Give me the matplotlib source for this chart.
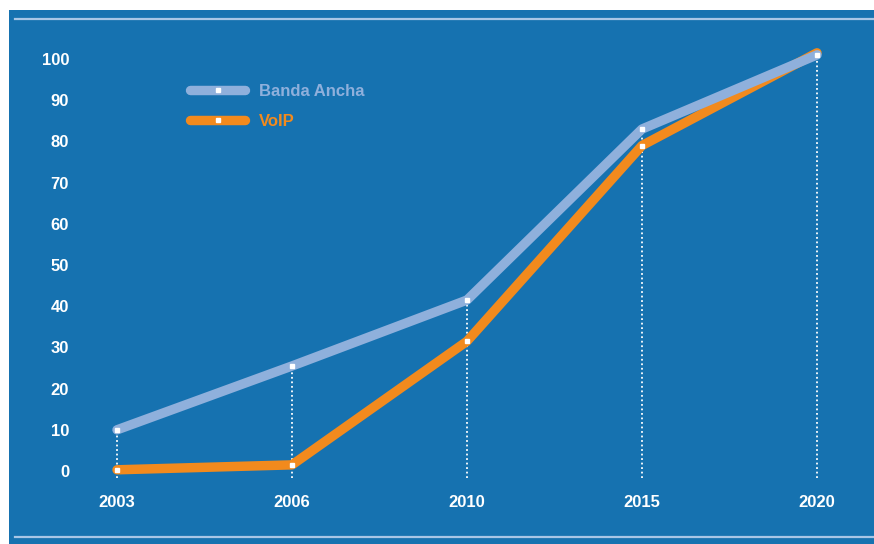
import matplotlib
matplotlib.use('Agg')
import matplotlib.pyplot as plt
from matplotlib.patches import Rectangle
from matplotlib.lines import Line2D

years = ['2003', '2006', '2010', '2015', '2020']
banda_ancha = [10, 25.5, 41.5, 83, 101]
voip = [0.3, 1.5, 31.5, 79, 101.5]
yticks = [0, 10, 20, 30, 40, 50, 60, 70, 80, 90, 100]

bg = '#1672b0'
c_ba = '#8fb0dc'
c_voip = '#f28a1d'

W, H = 874, 544
fig = plt.figure(figsize=(W/100, H/100), dpi=100, facecolor='white')

# blue panel and the two thin rules, kept behind the axes
fig.patches.append(Rectangle((9/W, 0), 1-9/W, 1-10/H, transform=fig.transFigure,
                             facecolor=bg, edgecolor='none', zorder=-2))
for yp in (18.5, 537):
    fig.lines.append(Line2D([15/W, 1], [1-yp/H, 1-yp/H], transform=fig.transFigure,
                            color='#a8c6e6', lw=1.6, zorder=-1))

ax = fig.add_axes([73.25/W, 1-483.4/H, (852-73.25)/W, (483.4-38.4)/H])
ax.set_facecolor('none')
ax.set_zorder(5)
x = list(range(len(years)))
ax.set_xlim(-0.25, 4.2)
ax.set_ylim(-3, 105)

# dotted drop lines from the highest point
tops = [max(a, b) for a, b in zip(banda_ancha, voip)]
ax.vlines(x, -1.8, tops, colors='white', linestyles=(0, (1, 1.5)), lw=1.3, zorder=2)

ax.plot(x, voip, color=c_voip, lw=6.8, solid_capstyle='round', solid_joinstyle='round',
        marker='s', ms=2.6, mfc='white', mec='white', zorder=3, label='VoIP')
ax.plot(x, banda_ancha, color=c_ba, lw=6.8, solid_capstyle='round', solid_joinstyle='round',
        marker='s', ms=2.6, mfc='white', mec='white', zorder=4, label='Banda Ancha')

ax.set_xticks(x)
ax.set_xticklabels(years)
ax.set_yticks(yticks)
ax.set_yticklabels([str(v) for v in yticks])
ax.tick_params(length=0, colors='white', labelsize=12)
ax.tick_params(axis='y', pad=3)
ax.tick_params(axis='x', pad=8)
for lab in ax.get_xticklabels() + ax.get_yticklabels():
    lab.set_fontweight('bold')
    lab.set_fontfamily('Liberation Sans')
for s in ax.spines.values():
    s.set_visible(False)

h, l = ax.get_legend_handles_labels()
leg = ax.legend(h[::-1], l[::-1], loc='upper left', bbox_to_anchor=(190/W, 1-84/H),
                bbox_transform=fig.transFigure, frameon=False, borderpad=0,
                borderaxespad=0, handlelength=3.3, handletextpad=0.85,
                labelspacing=0.88, numpoints=1, labelcolor='linecolor',
                prop={'family': 'Liberation Sans', 'weight': 'bold', 'size': 12})

fig.savefig('out.png', dpi=100, facecolor='white')
